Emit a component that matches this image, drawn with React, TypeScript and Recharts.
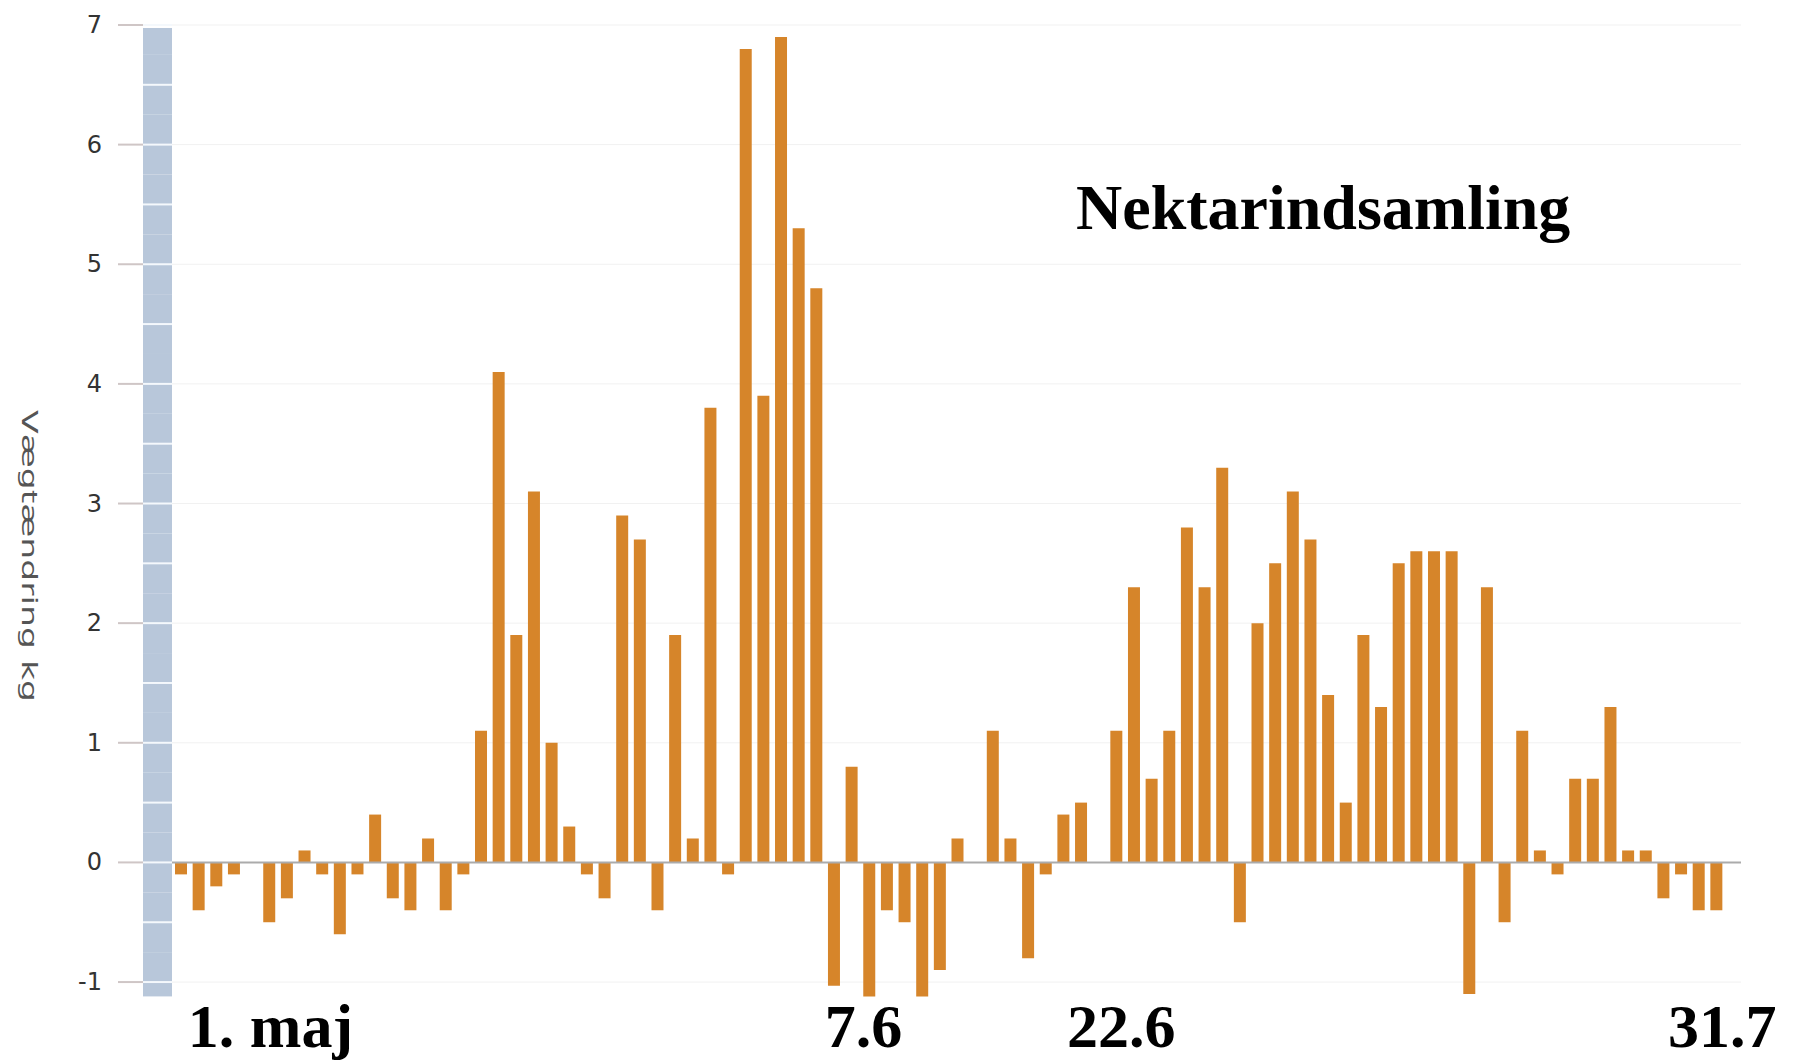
import { Bar, BarChart, CartesianGrid, ReferenceLine, XAxis, YAxis } from "recharts";

// daily weight change of the hive, kg
const WEIGHT_CHANGE = [
  -0.1, -0.4, -0.2, -0.1, 0, -0.5, -0.3, 0.1, -0.1, -0.6, -0.1, 0.4, -0.3, -0.4, 0.2, -0.4,
  -0.1, 1.1, 4.1, 1.9, 3.1, 1.0, 0.3, -0.1, -0.3, 2.9, 2.7, -0.4, 1.9, 0.2, 3.8, -0.1,
  6.8, 3.9, 6.9, 5.3, 4.8, -1.03, 0.8, -1.12, -0.4, -0.5, -1.12, -0.9, 0.2, 0, 1.1, 0.2,
  -0.8, -0.1, 0.4, 0.5, 0, 1.1, 2.3, 0.7, 1.1, 2.8, 2.3, 3.3, -0.5, 2.0, 2.5, 3.1,
  2.7, 1.4, 0.5, 1.9, 1.3, 2.5, 2.6, 2.6, 2.6, -1.1, 2.3, -0.5, 1.1, 0.1, -0.1, 0.7,
  0.7, 1.3, 0.1, 0.1, -0.3, -0.1, -0.4, -0.4,
];

const X_TICKS = [1, 39, 54, 88];
const X_TICK_LABELS = ["1. maj", "7.6", "22.6", "31.7"];
const X_TICK_DX = [7, 12, 5, 6];

const Y_LABEL_TICKS = [-1, 0, 1, 2, 3, 4, 5, 6, 7];
const Y_STRIP_TICKS = [-1, -0.5, 0, 0.5, 1, 1.5, 2, 2.5, 3, 3.5, 4, 4.5, 5, 5.5, 6, 6.5, 7];

const data = WEIGHT_CHANGE.map((v, i) => ({ day: i + 1, kg: v }));

const W = 1798;
const H = 1060;
const MARGIN = { top: 19, right: 57, bottom: 0, left: 0 };
const Y_AXIS_W = 172;
const X_AXIS_H = 60;
const DOMAIN: [number, number] = [-1.15, 7.05];
const PX_PER_UNIT = (H - MARGIN.top - MARGIN.bottom - X_AXIS_H) / (DOMAIN[1] - DOMAIN[0]);

const STRIP_W = 29;
const BAR_COLOR = "#d6852a";

function YTick(props: any) {
  const { x, y, payload } = props;
  const v = payload.value as number;
  const isInt = Number.isInteger(v);
  const q = PX_PER_UNIT / 4;
  let top = y - q;
  let bottom = y + q;
  if (v === 7) top = y + 3;
  if (v === -1) bottom = y + 0.12 * PX_PER_UNIT;
  return (
    <g>
      <rect x={x - STRIP_W} y={top} width={STRIP_W} height={bottom - top} fill="#b8c7da" />
      <line x1={x - STRIP_W} x2={x} y1={y} y2={y} stroke="#f4f8fc" strokeWidth={2} />
      {isInt && (
        <>
          <line x1={x - STRIP_W - 25} x2={x - STRIP_W} y1={y} y2={y} stroke="#cfc6c6" strokeWidth={2} />
          <text
            x={x - STRIP_W - 41}
            y={y}
            textAnchor="end"
            dominantBaseline="central"
            fontFamily="DejaVu Sans"
            fontSize={24}
            fill="#333"
          >
            {v}
          </text>
        </>
      )}
    </g>
  );
}

function XTick(props: any) {
  const { x, payload } = props;
  const i = X_TICKS.indexOf(payload.value);
  if (i < 0) return null;
  return (
    <text
      x={x + X_TICK_DX[i]}
      y={1047}
      textAnchor={i === 0 ? "start" : "middle"}
      fontFamily="Liberation Serif"
      fontWeight="bold"
      fontSize={62}
      fill="#000"
    >
      {X_TICK_LABELS[i]}
    </text>
  );
}

export default function App() {
  return (
    <div style={{ position: "relative", width: W, height: H, background: "#fff", overflow: "hidden" }}>
      <style>{"body{margin:0}"}</style>
      <BarChart width={W} height={H} data={data} margin={MARGIN} barSize={12}>
        <CartesianGrid vertical={false} stroke="#f1f1f1" horizontalValues={Y_LABEL_TICKS} />
        <XAxis
          dataKey="day"
          ticks={X_TICKS}
          interval={0}
          tick={<XTick />}
          tickLine={false}
          axisLine={false}
          height={X_AXIS_H}
          padding={{ left: 0, right: 16 }}
        />
        <YAxis
          width={Y_AXIS_W}
          domain={DOMAIN}
          ticks={Y_STRIP_TICKS}
          interval={0}
          allowDataOverflow
          tick={<YTick />}
          tickSize={0}
          tickMargin={0}
          tickLine={false}
          axisLine={false}
        />
        <ReferenceLine y={0} stroke="#ababab" strokeWidth={2} />
        <Bar dataKey="kg" fill={BAR_COLOR} isAnimationActive={false} />
      </BarChart>
      <svg
        width={W}
        height={H}
        style={{ position: "absolute", left: 0, top: 0, pointerEvents: "none" }}
      >
        <text
          x={1076}
          y={229}
          fontFamily="Liberation Serif"
          fontWeight="bold"
          fontSize={64}
          fill="#000"
        >
          Nektarindsamling
        </text>
        <text
          transform="translate(22 556) rotate(90)"
          textAnchor="middle"
          fontFamily="DejaVu Sans"
          fontSize={22}
          fill="#555"
          textLength={292}
          lengthAdjust="spacingAndGlyphs"
        >
          Vægtændring kg
        </text>
      </svg>
    </div>
  );
}
